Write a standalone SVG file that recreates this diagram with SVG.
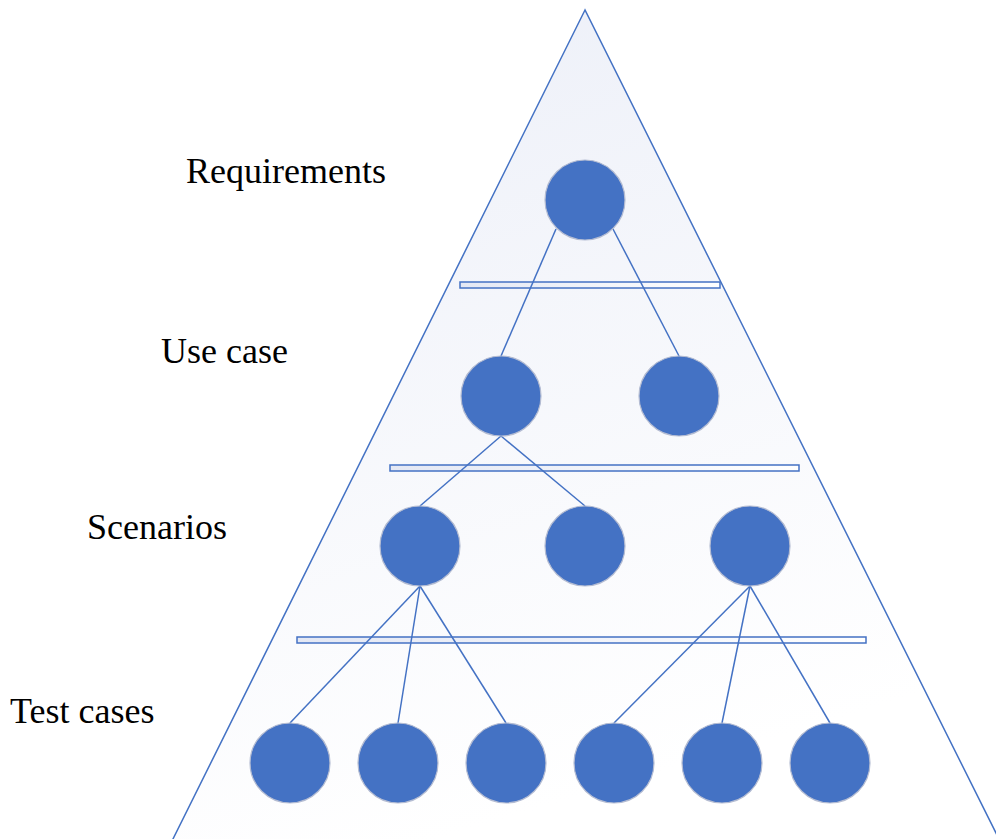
<svg xmlns="http://www.w3.org/2000/svg" width="996" height="839" viewBox="0 0 996 839">
  <defs>
    <linearGradient id="pyramidFill" x1="0" y1="0" x2="0.3" y2="1">
      <stop offset="0" stop-color="#ECEFF8"/>
      <stop offset="1" stop-color="#FFFFFF"/>
    </linearGradient>
    <linearGradient id="barFill" x1="0" y1="0" x2="1" y2="0">
      <stop offset="0" stop-color="#E4E8F4"/>
      <stop offset="1" stop-color="#FFFFFF"/>
    </linearGradient>
  </defs>
  <style>
    .edge { stroke: #4472C4; stroke-width: 1.5; fill: none; }
    .bar { fill: url(#barFill); stroke: #4472C4; stroke-width: 1.5; }
    .node { fill: #4472C4; stroke: #B4BCD2; stroke-width: 1.2; }
    .label { font-family: "Liberation Serif", "Times New Roman", serif; font-size: 36px; fill: #000; }
  </style>

  <rect width="996" height="839" fill="#FFFFFF"/>

  <!-- pyramid outline -->
  <polygon id="pyramid" points="585,10 170,845 1002,845" fill="url(#pyramidFill)" stroke="#4472C4" stroke-width="1.5"/>

  <!-- level separators -->
  <g id="separators">
    <rect class="bar" x="460" y="282" width="260" height="6"/>
    <rect class="bar" x="390" y="465" width="409" height="6"/>
    <rect class="bar" x="297" y="637" width="569" height="6"/>
  </g>

  <!-- connectors -->
  <g id="connectors">
    <line class="edge" x1="556" y1="229" x2="501" y2="356"/>
    <line class="edge" x1="613" y1="229" x2="679" y2="356"/>
    <line class="edge" x1="501" y1="436" x2="420" y2="506"/>
    <line class="edge" x1="501" y1="436" x2="585" y2="506"/>
    <line class="edge" x1="420" y1="586" x2="290" y2="723"/>
    <line class="edge" x1="420" y1="586" x2="398" y2="723"/>
    <line class="edge" x1="420" y1="586" x2="506" y2="723"/>
    <line class="edge" x1="750" y1="586" x2="614" y2="723"/>
    <line class="edge" x1="750" y1="586" x2="722" y2="723"/>
    <line class="edge" x1="750" y1="586" x2="830" y2="723"/>
  </g>

  <!-- requirements level -->
  <g id="req1"><circle class="node" cx="585" cy="200" r="40"/></g>

  <!-- use case level -->
  <g id="uc1"><circle class="node" cx="501" cy="396" r="40"/></g>
  <g id="uc2"><circle class="node" cx="679" cy="396" r="40"/></g>

  <!-- scenario level -->
  <g id="sc1"><circle class="node" cx="420" cy="546" r="40"/></g>
  <g id="sc2"><circle class="node" cx="585" cy="546" r="40"/></g>
  <g id="sc3"><circle class="node" cx="750" cy="546" r="40"/></g>

  <!-- test case level -->
  <g id="tc1"><circle class="node" cx="290" cy="763" r="40"/></g>
  <g id="tc2"><circle class="node" cx="398" cy="763" r="40"/></g>
  <g id="tc3"><circle class="node" cx="506" cy="763" r="40"/></g>
  <g id="tc4"><circle class="node" cx="614" cy="763" r="40"/></g>
  <g id="tc5"><circle class="node" cx="722" cy="763" r="40"/></g>
  <g id="tc6"><circle class="node" cx="830" cy="763" r="40"/></g>

  <!-- level labels -->
  <g id="labels">
    <text class="label" x="186" y="183">Requirements</text>
    <text class="label" x="161" y="363">Use case</text>
    <text class="label" x="87" y="539">Scenarios</text>
    <text class="label" x="10" y="723">Test cases</text>
  </g>
</svg>
